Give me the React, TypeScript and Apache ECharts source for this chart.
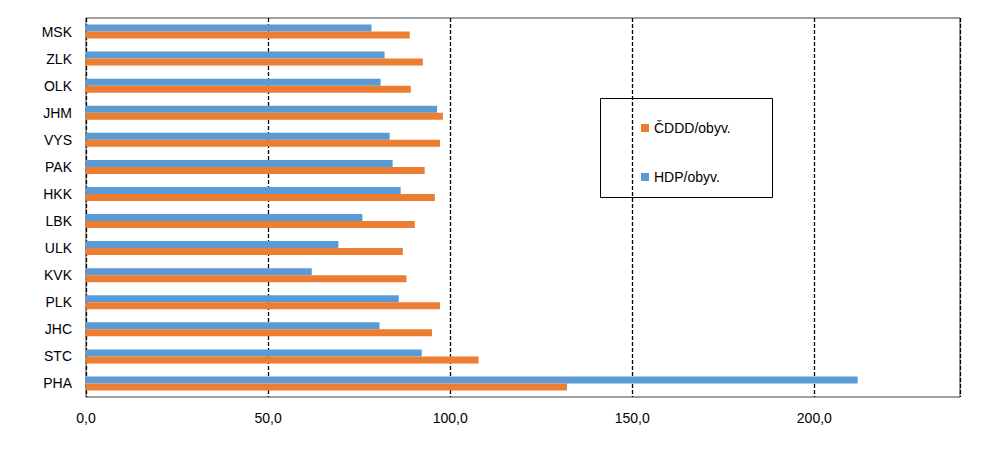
import React, { useEffect, useRef } from 'react';
import * as echarts from 'echarts';

const categories = ['PHA', 'STC', 'JHC', 'PLK', 'KVK', 'ULK', 'LBK', 'HKK', 'PAK', 'VYS', 'JHM', 'OLK', 'ZLK', 'MSK'];
const hdp = [211.9, 92.2, 80.6, 85.9, 62.0, 69.3, 75.9, 86.4, 84.2, 83.4, 96.4, 80.9, 82.0, 78.4];
const cddd = [132.1, 107.8, 95.0, 97.2, 88.0, 87.0, 90.3, 95.8, 93.0, 97.2, 98.0, 89.2, 92.5, 88.9];

const App: React.FC = () => {
  const chartRef = useRef<HTMLDivElement>(null);

  useEffect(() => {
    if (!chartRef.current) return;
    const chart = echarts.init(chartRef.current, undefined, { renderer: 'svg' });
    const font = 'Liberation Sans, Arial, sans-serif';
    chart.setOption({
      animation: false,
      textStyle: { fontFamily: font },
      grid: { left: 78, right: 34, top: 10, bottom: 45, show: true, borderColor: '#404040', borderWidth: 1 },
      xAxis: {
        type: 'value',
        min: 0,
        max: 240,
        interval: 50,
        axisLine: { show: false },
        axisTick: { show: false },
        axisLabel: {
          color: '#000',
          fontSize: 14,
          margin: 14,
          formatter: (v: number) => (v === 240 ? '' : v.toFixed(1).replace('.', ',')),
        },
        splitLine: { lineStyle: { color: '#000', type: [4, 2], width: 1.3 } },
      },
      yAxis: {
        type: 'category',
        data: categories,
        axisLine: { show: false },
        axisTick: { show: false },
        axisLabel: { color: '#000', fontSize: 14, margin: 14 },
      },
      legend: {
        orient: 'vertical',
        left: 628,
        top: 108,
        itemGap: 35,
        itemWidth: 8,
        itemHeight: 8,
        icon: 'rect',
        textStyle: { fontSize: 14, color: '#000', fontFamily: font },
        data: ['ČDDD/obyv.', 'HDP/obyv.'],
      },
      graphic: [
        {
          type: 'rect',
          left: 592,
          top: 90,
          shape: { width: 172, height: 99 },
          style: { fill: '#fff', stroke: '#000', lineWidth: 1 },
          z: -1,
        },
      ],
      series: [
        { name: 'HDP/obyv.', type: 'bar', data: hdp, barWidth: 7, barGap: '0%', itemStyle: { color: '#5b9bd5' } },
        { name: 'ČDDD/obyv.', type: 'bar', data: cddd, barWidth: 7, barGap: '0%', itemStyle: { color: '#ed7d31' } },
      ],
    });
    return () => chart.dispose();
  }, []);

  return <div ref={chartRef} style={{ width: '986px', height: '434px' }}></div>;
};

export default App;
